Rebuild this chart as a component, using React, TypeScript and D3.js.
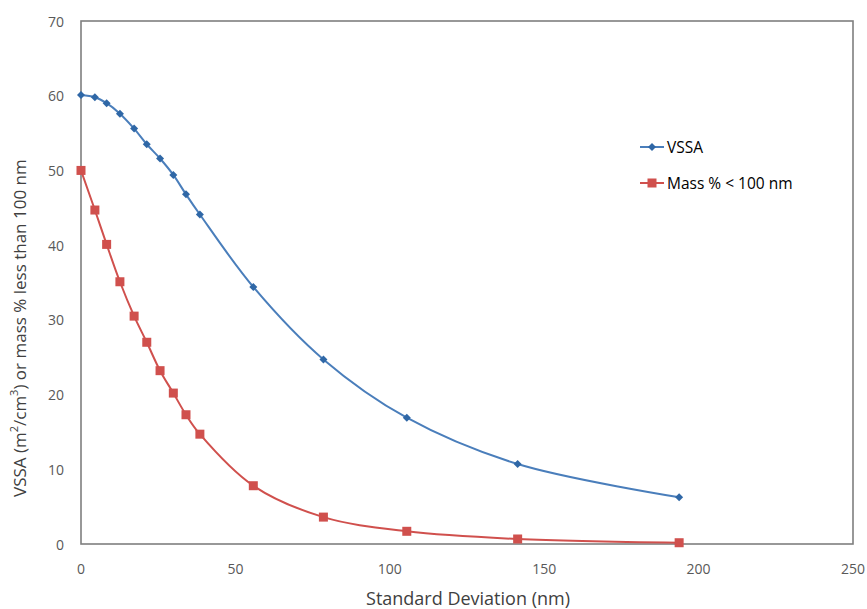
import React from "react";
import * as d3 from "d3";

const stdDev = [0, 4.5, 8.3, 12.6, 17.2, 21.3, 25.6, 29.9, 34.0, 38.5, 55.8, 78.5, 105.5, 141.4, 193.7];
const vssa = [60.1, 59.8, 59.0, 57.6, 55.6, 53.5, 51.6, 49.4, 46.8, 44.1, 34.4, 24.7, 16.9, 10.7, 6.25];
const massPct = [50.0, 44.7, 40.1, 35.1, 30.5, 27.0, 23.2, 20.2, 17.3, 14.7, 7.8, 3.6, 1.7, 0.67, 0.17];
const xTicks = [0, 50, 100, 150, 200, 250];
const yTicks = [0, 10, 20, 30, 40, 50, 60, 70];
const seriesNames = ["VSSA", "Mass % < 100 nm"];

const W = 867, H = 609;
const m = { left: 81, right: 853, top: 21, bottom: 544 };

export default function App() {
  const x = d3.scaleLinear().domain([0, 250]).range([m.left, m.right]);
  const y = d3.scaleLinear().domain([0, 70]).range([m.bottom, m.top]);
  const line = d3
    .line<number>()
    .x((_, i) => x(stdDev[i]))
    .y((d) => y(d))
    .curve(d3.curveCatmullRom.alpha(0.5));
  const blue = "#4A7EBB";
  const blueDark = "#2F67A6";
  const red = "#D0504D";
  const tickColor = "#595959";
  const font = "'Open Sans', 'Noto Sans', sans-serif";
  const diamond = (cx: number, cy: number, r: number) =>
    `M${cx},${cy - r}L${cx + r},${cy}L${cx},${cy + r}L${cx - r},${cy}Z`;
  return (
    <svg width={W} height={H} style={{ position: "absolute", left: 0, top: 0, background: "#fff" }}>
      <rect x={0} y={0} width={W} height={H} fill="#fff" />
      <rect
        x={m.left}
        y={m.top}
        width={m.right - m.left}
        height={m.bottom - m.top}
        fill="none"
        stroke="#7f7f7f"
        strokeWidth={1.6}
      />
      {yTicks.map((t) => (
        <text
          key={"y" + t}
          x={m.left - 17}
          y={y(t)}
          textAnchor="end"
          dominantBaseline="central"
          fontFamily={font}
          fontSize={14}
          fill={tickColor}
        >
          {t}
        </text>
      ))}
      {xTicks.map((t) => (
        <text
          key={"x" + t}
          x={x(t)}
          y={m.bottom + 24}
          textAnchor="middle"
          dominantBaseline="central"
          fontFamily={font}
          fontSize={14}
          fill={tickColor}
        >
          {t}
        </text>
      ))}
      <text
        x={(m.left + m.right) / 2 + 1}
        y={598}
        textAnchor="middle"
        dominantBaseline="central"
        fontFamily={font}
        fontSize={18}
        fill="#404040"
      >
        Standard Deviation (nm)
      </text>
      <text
        transform={`translate(19,497) rotate(-90)`}
        textAnchor="start"
        dominantBaseline="central"
        fontFamily={font}
        fontSize={17}
        fill="#404040"
      >
        VSSA (m<tspan fontSize={11} dy={-6}>2</tspan>
        <tspan dy={6}>/cm</tspan>
        <tspan fontSize={11} dy={-6}>3</tspan>
        <tspan dy={6}>) or mass % less than 100 nm</tspan>
      </text>
      <path d={line(vssa) || ""} fill="none" stroke={blue} strokeWidth={2} />
      <path d={line(massPct) || ""} fill="none" stroke={red} strokeWidth={2} />
      {vssa.map((v, i) => (
        <path key={"b" + i} d={diamond(x(stdDev[i]), y(v), 4)} fill={blueDark} />
      ))}
      {massPct.map((v, i) => (
        <rect key={"r" + i} x={x(stdDev[i]) - 4.5} y={y(v) - 4.5} width={9} height={9} fill={red} />
      ))}
      {/* legend */}
      <g>
        <line x1={640} x2={664} y1={147} y2={147} stroke={blue} strokeWidth={2} />
        <path d={diamond(652, 147, 4)} fill={blueDark} />
        <text x={667} y={147} dominantBaseline="central" fontFamily={font} fontSize={15.5} fill="#000">
          {seriesNames[0]}
        </text>
        <line x1={640} x2={664} y1={183} y2={183} stroke={red} strokeWidth={2} />
        <rect x={647.5} y={178.5} width={9} height={9} fill={red} />
        <text x={667} y={183} dominantBaseline="central" fontFamily={font} fontSize={15.5} fill="#000">
          {seriesNames[1]}
        </text>
      </g>
    </svg>
  );
}
